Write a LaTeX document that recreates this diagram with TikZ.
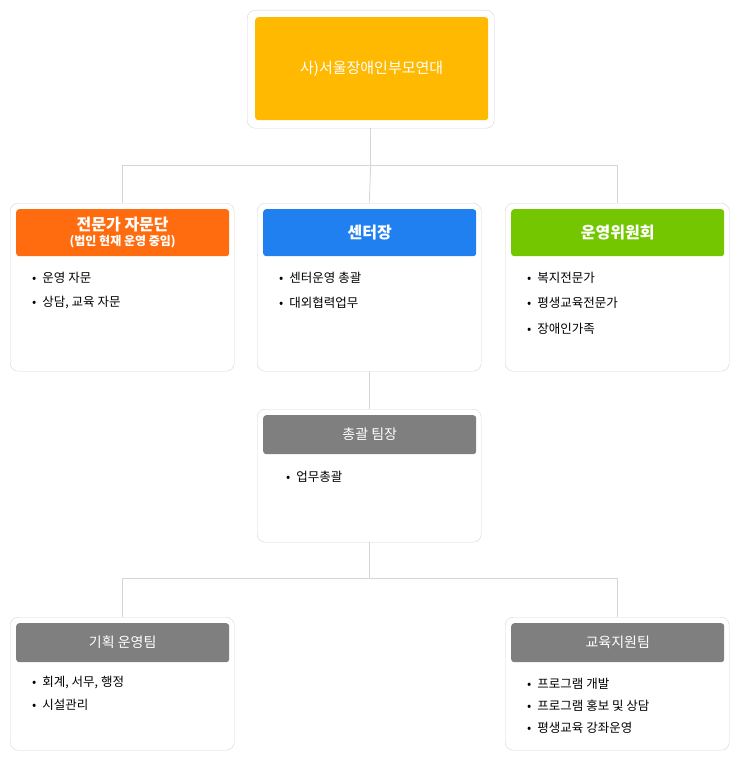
\documentclass[tikz,border=0pt]{standalone}
\usepackage{fontspec}
\newfontfamily\kr{Noto Sans CJK KR}
\usetikzlibrary{positioning}
\definecolor{cOrange}{HTML}{FFB900}
\definecolor{cRed}{HTML}{FF6C0F}
\definecolor{cBlue}{HTML}{2080F0}
\definecolor{cGreen}{HTML}{74C700}
\definecolor{cGray}{HTML}{7F7F7F}
\definecolor{cLine}{HTML}{D5D5D5}

\begin{document}
\begin{tikzpicture}[
x=1pt, y=-1pt,
font=\kr,
outer/.style={draw=cLine, rounded corners=8pt, anchor=north west,
              minimum width=224pt, minimum height=168pt, inner sep=0pt},
head/.style={rounded corners=3pt, anchor=north west, text=white,
              minimum width=213pt, minimum height=47pt, inner sep=0pt,
              font=\kr\fontsize{16}{18}\selectfont\bfseries, align=center},
ghead/.style={head, fill=cGray, minimum height=39pt,
              font=\kr\fontsize{14}{16}\selectfont},
item/.style={anchor=west, font=\kr\fontsize{12.5}{14}\selectfont, inner sep=0pt},
link/.style={draw=cLine, line width=0.8pt}
]
\useasboundingbox (0,0) rectangle (740,760);

% top
\node[outer, minimum width=247pt, minimum height=118pt] (top) at (247,10) {};
\node[head, fill=cOrange, minimum width=233pt, minimum height=103pt,
      font=\kr\fontsize{15}{17}\selectfont] (topHead) at (255,17) {사)서울장애인부모연대};

% second row
\node[outer] (expert) at (10,203) {};
\node[head, fill=cRed] (expertHead) at (16,209)
  {전문가 자문단\\[-3pt]{\fontsize{12}{13}\selectfont (법인 현재 운영 중임)}};
\node[outer] (center) at (257,203) {};
\node[head, fill=cBlue] (centerHead) at (263,209) {센터장};
\node[outer] (board) at (505,203) {};
\node[head, fill=cGreen] (boardHead) at (511,209) {운영위원회};

% team leader
\node[outer, minimum height=133pt] (lead) at (257,409) {};
\node[ghead] (leadHead) at (263,415) {총괄 팀장};

% teams
\node[outer, minimum height=133pt] (plan) at (10,617) {};
\node[ghead] (planHead) at (16,623) {기획 운영팀};
\node[outer, minimum height=133pt] (edu) at (505,617) {};
\node[ghead] (eduHead) at (511,623) {교육지원팀};

% connectors
\draw[link] (top.south) -- ++(0,37) coordinate (j1);
\draw[link] (expert.north) |- (j1) -| (board.north);
\draw[link] (j1) -- (center.north);
\draw[link] (center.south) -- (lead.north);
\draw[link] (lead.south) -- ++(0,36) coordinate (j2);
\draw[link] (plan.north) |- (j2) -| (edu.north);

% items
\foreach \x/\y/\t in {
  32/278/운영 자문, 32/303/{상담, 교육 자문},
  279/278/센터운영 총괄, 279/303/대외협력업무,
  527/278/복지전문가, 527/303/평생교육전문가, 527/329/장애인가족,
  286/477/업무총괄,
  32/683/{회계, 서무, 행정}, 32/705/시설관리,
  527/684/프로그램 개발, 527/706/프로그램 홍보 및 상담, 527/728/평생교육 강좌운영} {
  \node[item] at (\x,\y) {•\hspace{6pt}\t};
}
\end{tikzpicture}
\end{document}
